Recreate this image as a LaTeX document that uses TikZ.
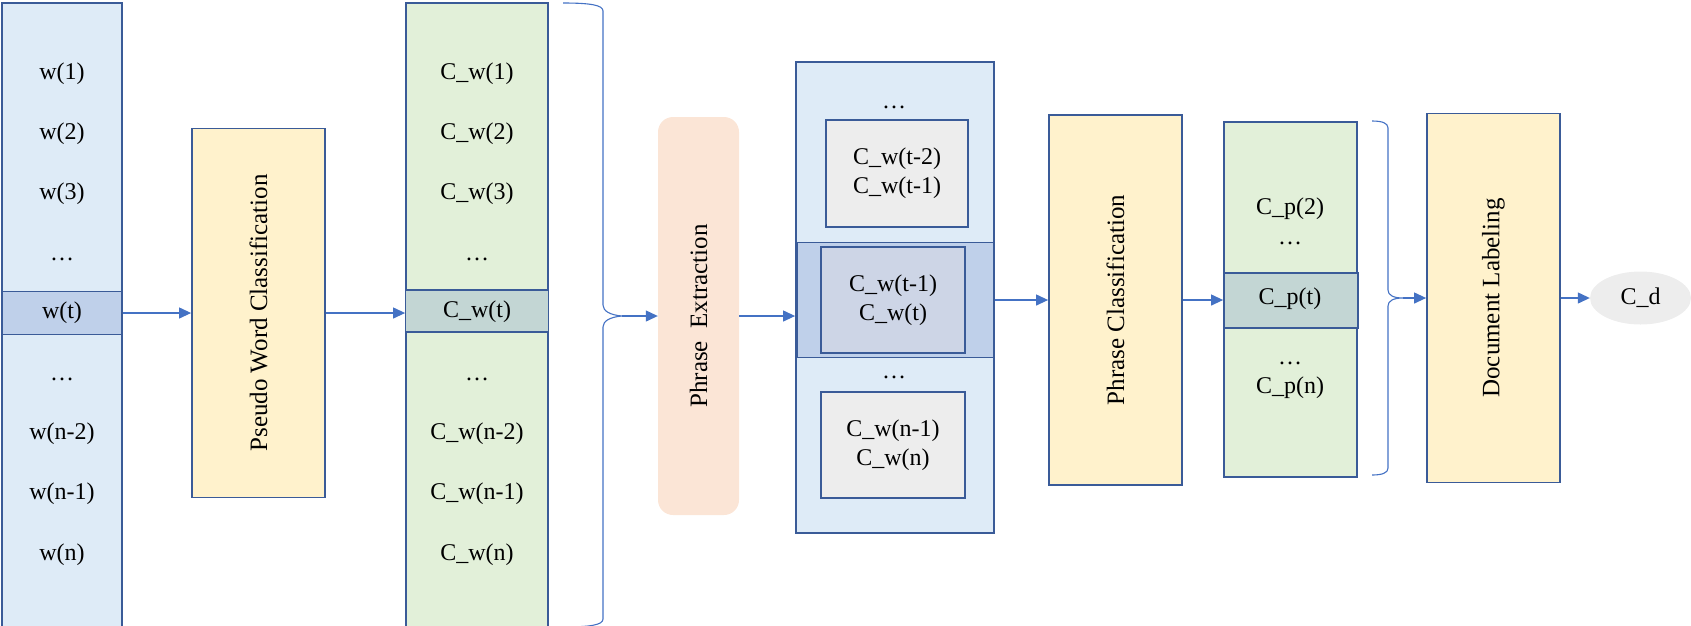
\documentclass[tikz,border=0pt]{standalone}
\usepackage{fontspec}
\setmainfont{Liberation Serif}
\usetikzlibrary{arrows.meta, shapes.geometric}

\begin{document}
\begin{tikzpicture}[x=1pt, y=-1pt, font=\fontsize{24}{29}\selectfont,
    box/.style={draw=edgeblue, line width=1.8pt, inner sep=0pt},
    vtext/.style={rotate=90, font=\fontsize{25}{30}\selectfont},
    conn/.style={-{Triangle[length=12pt, width=11pt]}, draw=arrowblue, line width=1.2pt},
    bracket/.style={draw=arrowblue, line width=1.1pt}]

    % Colori (stile Word)
    \definecolor{edgeblue}{HTML}{3A5B98}
    \definecolor{arrowblue}{HTML}{4472C4}
    \definecolor{wblue}{HTML}{DEEBF7}
    \definecolor{hiblue}{HTML}{BFD0EA}
    \definecolor{cgreen}{HTML}{E2F0D9}
    \definecolor{hiteal}{HTML}{C3D6D4}
    \definecolor{softyellow}{HTML}{FFF2CC}
    \definecolor{peach}{HTML}{FBE5D6}
    \definecolor{innergray}{HTML}{EDEDED}
    \definecolor{midgray}{HTML}{CDD5E6}

    \useasboundingbox (0,0) rectangle (1691,625);

    % Colonna delle parole
    \node[box, fill=wblue, minimum width=120pt, minimum height=628pt] (wcol) at (62,317) {};
    \node[box, fill=hiblue, minimum width=120pt, minimum height=43pt] (wt) at (62,313) {};
    \node (w1) at (62,74) {w(1)};
    \node (w2) at (62,134) {w(2)};
    \node (w3) at (62,194) {w(3)};
    \node (wdotsa) at (62,259) {\dots};
    \node (wtlbl) at (62,313) {w(t)};
    \node (wdotsb) at (62,379) {\dots};
    \node (wn2) at (62,434) {w(n-2)};
    \node (wn1) at (62,494) {w(n-1)};
    \node (wn) at (62,555) {w(n)};

    % Classificazione delle parole
    \node[box, fill=softyellow, minimum width=133pt, minimum height=369pt] (pseudo) at (258.5,313) {};
    \node[vtext] (pseudotxt) at (pseudo) {Pseudo Word Classification};

    % Colonna delle classi
    \node[box, fill=cgreen, minimum width=142pt, minimum height=628pt] (cwcol) at (477,317) {};
    \node[box, fill=hiteal, minimum width=143pt, minimum height=42pt] (cwt) at (477,311) {};
    \node (cw1) at (477,74) {C\_w(1)};
    \node (cw2) at (477,134) {C\_w(2)};
    \node (cw3) at (477,194) {C\_w(3)};
    \node (cwdotsa) at (477,259) {\dots};
    \node (cwtlbl) at (477,312) {C\_w(t)};
    \node (cwdotsb) at (477,379) {\dots};
    \node (cwn2) at (477,434) {C\_w(n-2)};
    \node (cwn1) at (477,494) {C\_w(n-1)};
    \node (cwn) at (477,555) {C\_w(n)};

    % Parentesi graffa 1
    \coordinate (tipa) at (622,316);
    \draw[bracket] (563,3) .. controls (590,3) and (603,5) .. (603,11) -- (603,305)
        .. controls (603,311) and (610,315) .. (tipa)
        .. controls (610,317) and (603,321) .. (603,327) -- (603,619)
        .. controls (603,625) and (590,627) .. (563,627);

    % Estrazione delle frasi
    \node[fill=peach, rounded corners=15pt, minimum width=81pt, minimum height=398pt] (phrase) at (698.5,316) {};
    \node[vtext] (phrasetxt) at (phrase) {Phrase~ Extraction};

    % Contenitore delle coppie
    \node[box, fill=wblue, minimum width=198pt, minimum height=471pt] (pairs) at (895,297.5) {};
    \node[box, fill=hiblue, minimum width=197pt, minimum height=115pt] (band) at (895.5,300) {};
    \node (pdotsa) at (894,107) {\dots};
    \node[box, fill=innergray, minimum width=142pt, minimum height=107pt, align=center] (paira) at (897,173.5) {C\_w(t-2)\\C\_w(t-1)};
    \node[box, fill=midgray, minimum width=144pt, minimum height=106pt, align=center] (pairb) at (893,300) {C\_w(t-1)\\C\_w(t)};
    \node (pdotsb) at (894,377) {\dots};
    \node[box, fill=innergray, minimum width=144pt, minimum height=106pt, align=center] (pairc) at (893,445) {C\_w(n-1)\\C\_w(n)};

    % Classificazione delle frasi
    \node[box, fill=softyellow, minimum width=133pt, minimum height=370pt] (pcls) at (1115.5,300) {};
    \node[vtext] (pclstxt) at (pcls) {Phrase Classification};

    % Colonna delle classi di frase
    \node[box, fill=cgreen, minimum width=133pt, minimum height=355pt] (pcol) at (1290.5,299.5) {};
    \node[box, fill=hiteal, minimum width=134pt, minimum height=55pt] (cpt) at (1291,300.5) {};
    \node (cp2) at (1290,209) {C\_p(2)};
    \node (cpdotsa) at (1290,243) {\dots};
    \node (cptlbl) at (1290,299) {C\_p(t)};
    \node (cpdotsb) at (1290,363) {\dots};
    \node (cpn) at (1290,388) {C\_p(n)};

    % Parentesi graffa 2
    \coordinate (tipb) at (1403,298);
    \draw[bracket] (1372,121) .. controls (1382,121) and (1388,123) .. (1388,128) -- (1388,290)
        .. controls (1388,295) and (1393,298) .. (tipb)
        .. controls (1393,298) and (1388,301) .. (1388,306) -- (1388,468)
        .. controls (1388,473) and (1382,475) .. (1372,475);

    % Etichettatura del documento
    \node[box, fill=softyellow, minimum width=133pt, minimum height=369pt] (doc) at (1493.5,298) {};
    \node[vtext] (doctxt) at (doc) {Document Labeling};
    \node[ellipse, fill=innergray, minimum width=101pt, minimum height=53pt, inner sep=0pt] (cd) at (1640.5,298) {C\_d};

    % Frecce
    \draw[conn] (wt.east) -- (pseudo.west);
    \draw[conn] (pseudo.east) -- (pseudo.east -| cwcol.west);
    \draw[conn] (tipa) -- (phrase.west);
    \draw[conn] (phrase.east) -- (phrase.east -| pairs.west);
    \draw[conn] (band.east) -- (pcls.west);
    \draw[conn] (pcls.east) -- (pcls.east -| pcol.west);
    \draw[conn] (tipb) -- (doc.west);
    \draw[conn] (doc.east) -- (cd.west);

\end{tikzpicture}
\end{document}
